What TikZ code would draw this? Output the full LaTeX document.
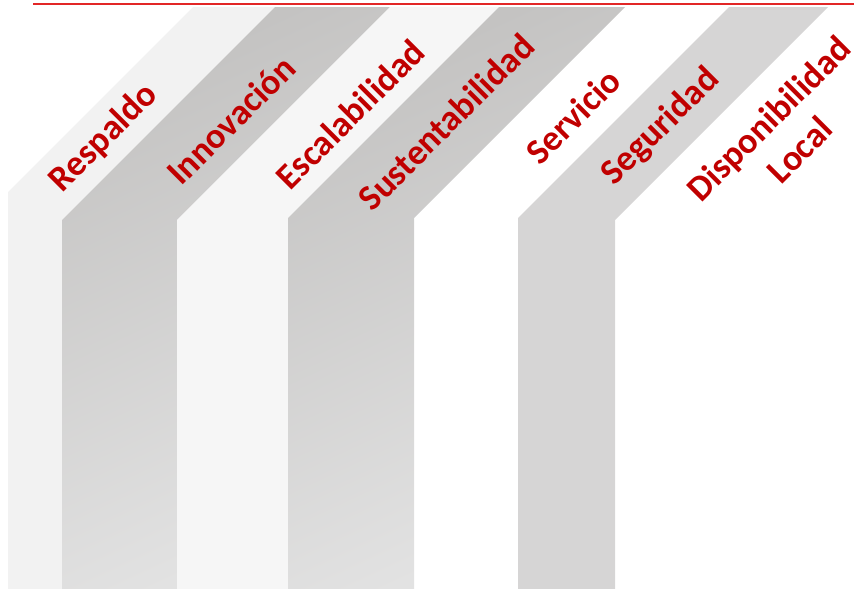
\documentclass[tikz,border=0pt]{standalone}
\usepackage{fontspec}
\setmainfont{Carlito}
\definecolor{labelred}{RGB}{192,0,0}
\definecolor{rulered}{RGB}{226,38,38}
\definecolor{bandpale}{RGB}{242,242,242}
\definecolor{bandwhite}{RGB}{246,246,246}
\definecolor{bandmid}{RGB}{214,213,213}
\definecolor{banddark}{RGB}{195,194,193}
\definecolor{bandlight}{RGB}{227,227,227}

\begin{document}
\begin{tikzpicture}[x=0.75pt,y=-0.75pt]
\tikzstyle{label}=[text=labelred,font=\fontsize{27}{33}\selectfont\bfseries,rotate=45,inner sep=0pt,align=center]
\tikzstyle{shadedband}=[top color=banddark,bottom color=bandlight,shading angle=25]
\useasboundingbox (0,0) rectangle (854,589);
    \fill[bandpale] (8,589) -- (8,192) -- (193,7) -- (275,7) -- (62,220) -- (62,589) -- cycle;
    \shade[shadedband] (62,589) -- (62,220) -- (275,7) -- (390,7) -- (177,220) -- (177,589) -- cycle;
    \fill[bandwhite] (177,589) -- (177,220) -- (390,7) -- (499,7) -- (288,218) -- (288,589) -- cycle;
    \shade[shadedband] (288,589) -- (288,218) -- (499,7) -- (625,7) -- (414,218) -- (414,589) -- cycle;
    \fill[bandmid] (518,589) -- (518,218) -- (729,7) -- (828,7) -- (615,220) -- (615,589) -- cycle;
    \draw[rulered,line width=1pt] (33,4) -- (854,4);
    \node[label] (respaldo) at (104,138) {Respaldo};
    \node[label] (innovacion) at (231,120) {Innovación};
    \node[label] (escalabilidad) at (350,114) {Escalabilidad};
    \node[label] (sustentabilidad) at (446,122) {Sustentabilidad};
    \node[label] (servicio) at (573,116) {Servicio};
    \node[label] (seguridad) at (661,127) {Seguridad};
    \node[label] (disponibilidad) at (784,134) {Disponibilidad\\Local};
\end{tikzpicture}
\end{document}
